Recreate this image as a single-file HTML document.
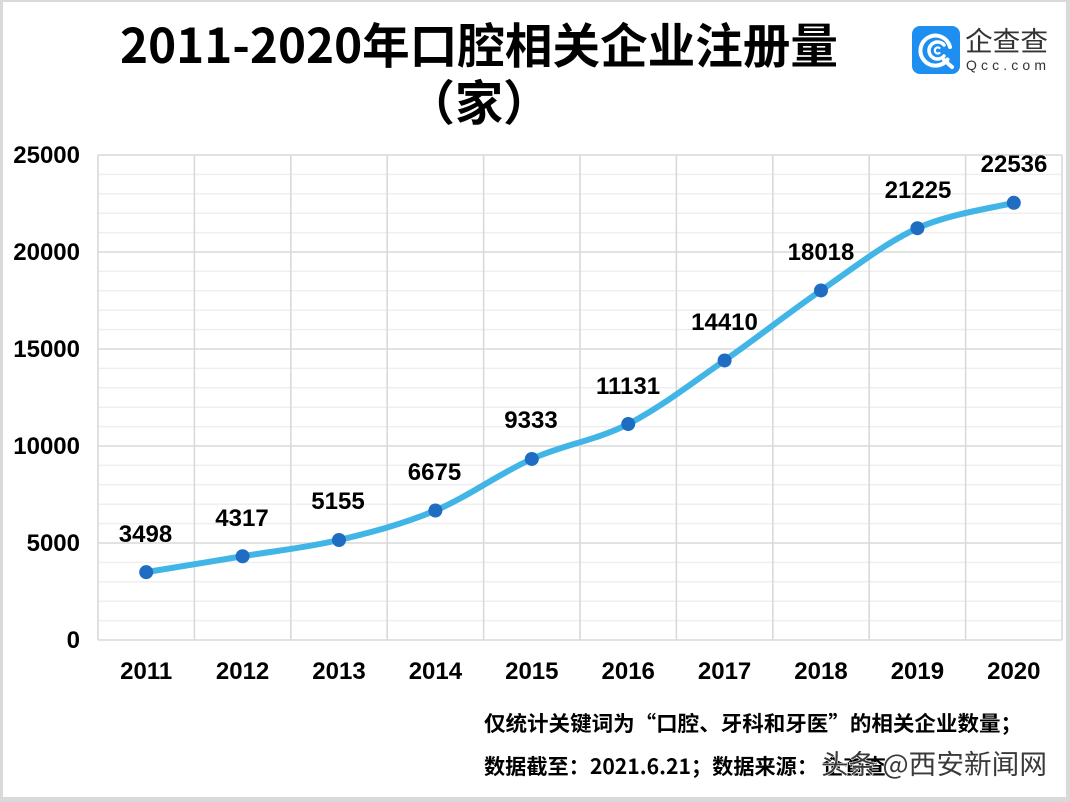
<!DOCTYPE html>
<html>
<head>
<meta charset="utf-8">
<style>
  html,body{margin:0;padding:0;background:#fff;}
  svg{display:block;}
  text{font-family:"Liberation Sans","Noto Sans CJK SC",sans-serif;}
  .cjk{font-family:"Noto Sans CJK SC","WenQuanYi Zen Hei",sans-serif;}
</style>
</head>
<body>
<svg width="1070" height="802" viewBox="0 0 1070 802" xmlns="http://www.w3.org/2000/svg">
  <rect x="0" y="0" width="1070" height="802" fill="#fff"/>
  <!-- frame -->
  <rect x="0" y="0" width="1070" height="2" fill="#d9d9d9"/>
  <rect x="0" y="0" width="3" height="802" fill="#d9d9d9"/>
  <rect x="1066" y="0" width="4" height="802" fill="#d9d9d9"/>
  <rect x="0" y="797" width="1070" height="5" fill="#d9d9d9"/>

  <!-- title -->
  <text class="cjk" x="120" y="63" font-size="48" font-weight="bold" fill="#000" textLength="718" lengthAdjust="spacingAndGlyphs">2011-2020年口腔相关企业注册量</text>
  <text class="cjk" x="479" y="120" font-size="48" font-weight="bold" fill="#000" text-anchor="middle">（家）</text>

  <!-- logo -->
  <rect x="912" y="26" width="48" height="48" rx="8" fill="#1e8ef0"/>
  <path d="M947.5 59.5 A15 15 0 1 1 950 47" fill="none" stroke="#fff" stroke-width="4" stroke-linecap="round"/>
  <path d="M944 45 A8.5 8.5 0 1 0 944 56" fill="none" stroke="#fff" stroke-width="3.5" stroke-linecap="round"/>
  <path d="M939.5 48 A3 3 0 1 0 939.5 53" fill="none" stroke="#fff" stroke-width="2.2" stroke-linecap="round"/>
  <path d="M944 60 L952 67" stroke="#fff" stroke-width="4" stroke-linecap="round"/>
  <text class="cjk" x="965" y="51" font-size="27" fill="#333" textLength="83" lengthAdjust="spacingAndGlyphs">企查查</text>
  <text x="966" y="70" font-size="14" fill="#333" textLength="80" lengthAdjust="spacing">Qcc.com</text>

  <!-- minor gridlines -->
  <g stroke="#efefef" stroke-width="1.5">
    <line x1="98" x2="1062" y1="620.6" y2="620.6"/>
    <line x1="98" x2="1062" y1="601.2" y2="601.2"/>
    <line x1="98" x2="1062" y1="581.8" y2="581.8"/>
    <line x1="98" x2="1062" y1="562.4" y2="562.4"/>
    <line x1="98" x2="1062" y1="523.6" y2="523.6"/>
    <line x1="98" x2="1062" y1="504.2" y2="504.2"/>
    <line x1="98" x2="1062" y1="484.8" y2="484.8"/>
    <line x1="98" x2="1062" y1="465.4" y2="465.4"/>
    <line x1="98" x2="1062" y1="426.6" y2="426.6"/>
    <line x1="98" x2="1062" y1="407.2" y2="407.2"/>
    <line x1="98" x2="1062" y1="387.8" y2="387.8"/>
    <line x1="98" x2="1062" y1="368.4" y2="368.4"/>
    <line x1="98" x2="1062" y1="329.6" y2="329.6"/>
    <line x1="98" x2="1062" y1="310.2" y2="310.2"/>
    <line x1="98" x2="1062" y1="290.8" y2="290.8"/>
    <line x1="98" x2="1062" y1="271.4" y2="271.4"/>
    <line x1="98" x2="1062" y1="232.6" y2="232.6"/>
    <line x1="98" x2="1062" y1="213.2" y2="213.2"/>
    <line x1="98" x2="1062" y1="193.8" y2="193.8"/>
    <line x1="98" x2="1062" y1="174.4" y2="174.4"/>
  </g>
  <!-- major gridlines -->
  <g stroke="#d9d9d9" stroke-width="1.6">
    <line x1="98" x2="1062" y1="155" y2="155"/>
    <line x1="98" x2="1062" y1="252" y2="252"/>
    <line x1="98" x2="1062" y1="349" y2="349"/>
    <line x1="98" x2="1062" y1="446" y2="446"/>
    <line x1="98" x2="1062" y1="543" y2="543"/>
    <line x1="98" x2="1062" y1="640" y2="640"/>
    <line x1="98" x2="98" y1="155" y2="640"/>
    <line x1="194.4" x2="194.4" y1="155" y2="640"/>
    <line x1="290.8" x2="290.8" y1="155" y2="640"/>
    <line x1="387.2" x2="387.2" y1="155" y2="640"/>
    <line x1="483.6" x2="483.6" y1="155" y2="640"/>
    <line x1="580" x2="580" y1="155" y2="640"/>
    <line x1="676.4" x2="676.4" y1="155" y2="640"/>
    <line x1="772.8" x2="772.8" y1="155" y2="640"/>
    <line x1="869.2" x2="869.2" y1="155" y2="640"/>
    <line x1="965.6" x2="965.6" y1="155" y2="640"/>
    <line x1="1062" x2="1062" y1="155" y2="640"/>
  </g>

  <!-- y labels -->
  <g font-size="24" font-weight="bold" fill="#000" text-anchor="end">
    <text x="80" y="163">25000</text>
    <text x="80" y="260">20000</text>
    <text x="80" y="357">15000</text>
    <text x="80" y="454">10000</text>
    <text x="80" y="551">5000</text>
    <text x="80" y="648">0</text>
  </g>
  <!-- x labels -->
  <g font-size="24" font-weight="bold" fill="#000" text-anchor="middle">
    <text x="146.2" y="679">2011</text>
    <text x="242.6" y="679">2012</text>
    <text x="339" y="679">2013</text>
    <text x="435.4" y="679">2014</text>
    <text x="531.8" y="679">2015</text>
    <text x="628.2" y="679">2016</text>
    <text x="724.6" y="679">2017</text>
    <text x="821" y="679">2018</text>
    <text x="917.4" y="679">2019</text>
    <text x="1013.8" y="679">2020</text>
  </g>

  <!-- series line -->
  <path d="M146.2,572.14 C162.27,569.49 210.47,561.61 242.6,556.25 C274.73,550.89 306.87,547.62 339.0,539.99 C371.13,532.36 403.27,524.01 435.4,510.5 C467.53,496.99 499.67,473.35 531.8,458.94 C563.93,444.53 596.07,440.48 628.2,424.06 C660.33,407.64 692.47,382.72 724.6,360.45 C756.73,338.18 788.87,312.49 821.0,290.45 C853.13,268.41 885.27,242.84 917.4,228.23 C949.53,213.62 997.73,207.04 1013.8,202.8" fill="none" stroke="#41b6e6" stroke-width="6" stroke-linecap="round" stroke-linejoin="round"/>

  <!-- markers -->
  <g fill="#1f6dc2">
    <circle cx="146.2" cy="572.14" r="7"/>
    <circle cx="242.6" cy="556.25" r="7"/>
    <circle cx="339" cy="539.99" r="7"/>
    <circle cx="435.4" cy="510.5" r="7"/>
    <circle cx="531.8" cy="458.94" r="7"/>
    <circle cx="628.2" cy="424.06" r="7"/>
    <circle cx="724.6" cy="360.45" r="7"/>
    <circle cx="821" cy="290.45" r="7"/>
    <circle cx="917.4" cy="228.23" r="7"/>
    <circle cx="1013.8" cy="202.8" r="7"/>
  </g>

  <!-- data labels -->
  <g font-size="24" font-weight="bold" fill="#000" text-anchor="middle">
    <text x="145.5" y="542">3498</text>
    <text x="242" y="526">4317</text>
    <text x="338" y="509">5155</text>
    <text x="434.5" y="480">6675</text>
    <text x="531" y="428">9333</text>
    <text x="628" y="394">11131</text>
    <text x="724.5" y="330">14410</text>
    <text x="821" y="260">18018</text>
    <text x="918" y="198">21225</text>
    <text x="1014" y="172">22536</text>
  </g>

  <!-- footnotes -->
  <text class="cjk" x="484" y="731" font-size="21" font-weight="bold" fill="#000" textLength="538" lengthAdjust="spacingAndGlyphs">仅统计关键词为“口腔、牙科和牙医”的相关企业数量；</text>
  <text class="cjk" x="484" y="774" font-size="21" font-weight="bold" fill="#000" textLength="334" lengthAdjust="spacingAndGlyphs">数据截至：2021.6.21；数据来源：</text>
  <text class="cjk" x="822" y="774" font-size="21" font-weight="bold" fill="#000" textLength="64" lengthAdjust="spacingAndGlyphs">企查查</text>
  <text class="cjk" x="821" y="774" font-size="27" fill="#3a3a3a" stroke="#fff" stroke-width="1.2" paint-order="stroke" textLength="226" lengthAdjust="spacingAndGlyphs">头条 @西安新闻网</text>
</svg>
</body>
</html>
